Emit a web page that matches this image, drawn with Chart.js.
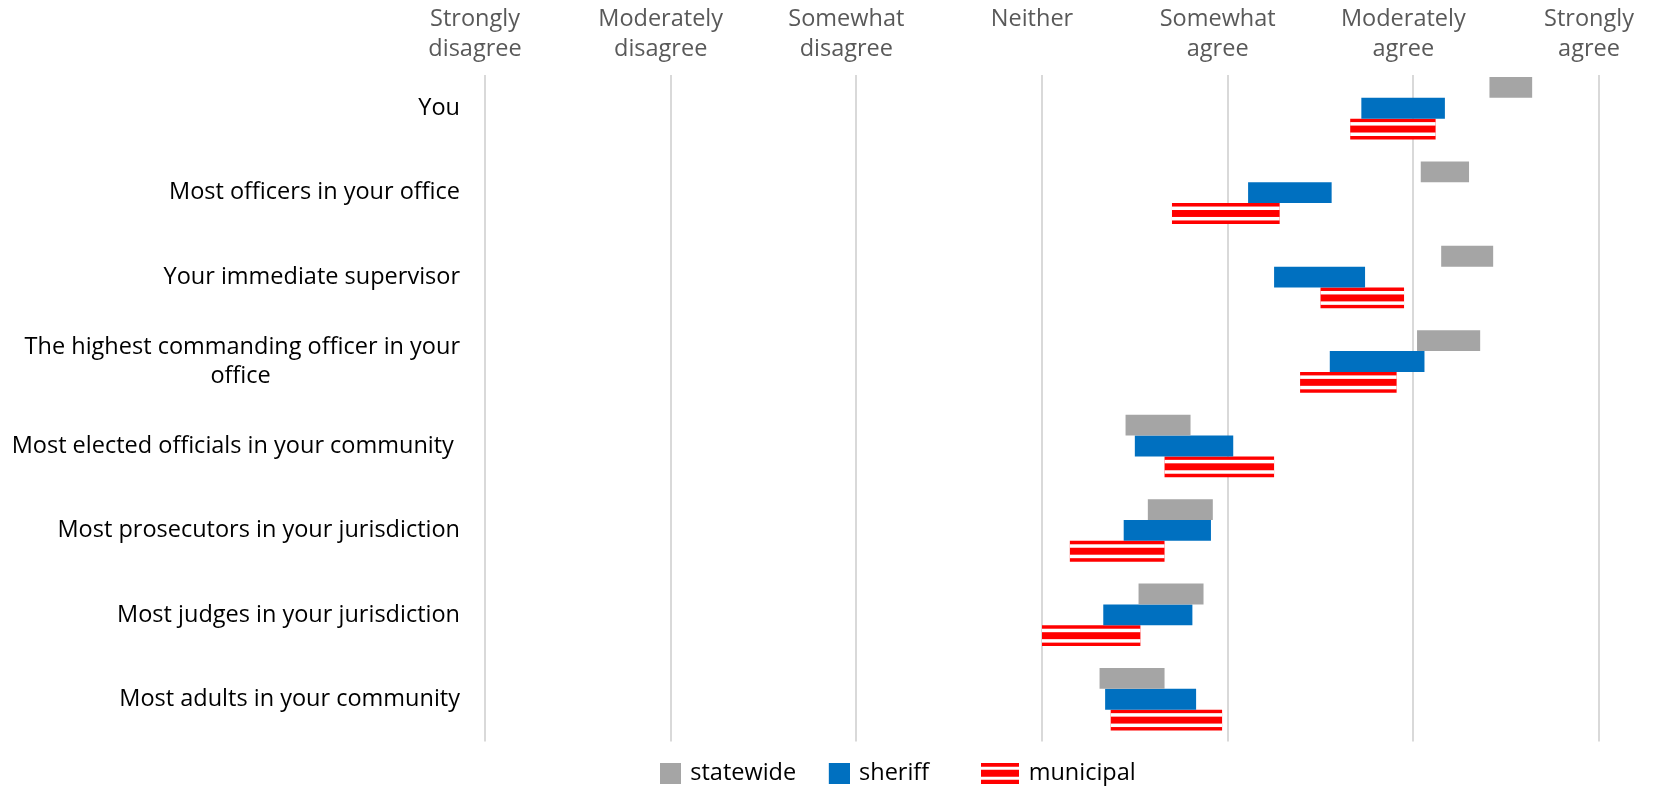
<!DOCTYPE html>
<html>
<head>
<meta charset="utf-8">
<script src="https://cdn.jsdelivr.net/npm/chart.js@4.4.0/dist/chart.umd.min.js"></script>
<style>
  html, body { margin: 0; padding: 0; background: #fff; }
  #wrap { width: 1661px; height: 787px; }
</style>
</head>
<body>
<div id="wrap"><canvas id="chart" width="1661" height="787"></canvas></div>
<script>
// categories (top to bottom)
const categories = [
  "You",
  "Most officers in your office",
  "Your immediate supervisor",
  ["The highest commanding officer in your", "office"],
  "Most elected officials in your community ",
  "Most prosecutors in your jurisdiction",
  "Most judges in your jurisdiction",
  "Most adults in your community"
];

// scale labels, 1..7
const scaleLabels = [
  ["Strongly", "disagree"],
  ["Moderately", "disagree"],
  ["Somewhat", "disagree"],
  ["Neither", ""],
  ["Somewhat", "agree"],
  ["Moderately", "agree"],
  ["Strongly", "agree"]
];

// [low, high] for each category
const statewide = [
  [6.41, 6.64], [6.04, 6.30], [6.15, 6.43], [6.02, 6.36],
  [4.45, 4.80], [4.57, 4.92], [4.52, 4.87], [4.31, 4.66]
];
const sheriff = [
  [5.72, 6.17], [5.11, 5.56], [5.25, 5.74], [5.55, 6.06],
  [4.50, 5.03], [4.44, 4.91], [4.33, 4.81], [4.34, 4.83]
];
const municipal = [
  [5.66, 6.12], [4.70, 5.28], [5.50, 5.95], [5.39, 5.91],
  [4.66, 5.25], [4.15, 4.66], [4.00, 4.53], [4.37, 4.97]
];

const FONT = '"Open Sans", sans-serif';
const SIZE = 23.5;
const GRAY = "#A5A5A5";
const BLUE = "#0070C0";
const RED = "#FF0000";

// centre the wrapped second line under the first one (labels are right aligned)
function centreWrapped(lines) {
  const ctx = document.createElement("canvas").getContext("2d");
  ctx.font = SIZE + "px " + FONT;
  const gap = ctx.measureText(lines[0]).width - ctx.measureText(lines[1]).width;
  const n = Math.round(gap / 2 / ctx.measureText(" ").width);
  return [lines[0], lines[1] + " ".repeat(n)];
}
const yLabels = categories.map(c => Array.isArray(c) ? centreWrapped(c) : c);

function legendIcon(color, striped) {
  const c = document.createElement("canvas");
  c.width = 38; c.height = 21;
  const g = c.getContext("2d");
  g.fillStyle = color;
  if (striped) {
    g.fillRect(0, 0, 38, 21);
    g.fillStyle = "#fff";
    g.fillRect(0, 4, 38, 3);
    g.fillRect(0, 14, 38, 3);
  } else {
    g.fillRect(17, 0, 21, 21);
  }
  return c;
}
const icons = [legendIcon(GRAY), legendIcon(BLUE), legendIcon(RED, true)];
const legendText = ["statewide ", "sheriff       ", "municipal"];

// gridlines start a little below the top of the plot in the original
const gridTop = {
  id: "gridTop",
  beforeDatasetsDraw(chart) {
    const a = chart.chartArea;
    chart.ctx.save();
    chart.ctx.fillStyle = "#fff";
    chart.ctx.fillRect(a.left - 3, a.top - 1, a.right - a.left + 6, 10);
    chart.ctx.restore();
  }
};

// white stripes over the municipal bars
const stripes = {
  id: "stripes",
  afterDatasetDraw(chart, args) {
    if (args.index !== 2) return;
    const ctx = chart.ctx;
    ctx.save();
    ctx.fillStyle = "#fff";
    args.meta.data.forEach(el => {
      const p = el.getProps(["x", "base", "y", "height"], true);
      const left = Math.min(p.x, p.base);
      const w = Math.abs(p.x - p.base);
      const top = p.y - p.height / 2;
      const u = p.height / 6;
      ctx.fillRect(left, top + u, w, u);
      ctx.fillRect(left, top + 4 * u, w, u);
    });
    ctx.restore();
  }
};

// place the legend like the original
const legendPlace = {
  id: "legendPlace",
  afterLayout(chart) {
    const lg = chart.legend;
    const pad = lg.options.labels.padding;
    lg.left = 644.5 - pad;
    lg.right = lg.left + pad + lg.lineWidths[0] + 2;
    lg.top += 8;
  }
};

new Chart(document.getElementById("chart"), {
  type: "bar",
  data: {
    labels: yLabels,
    datasets: [
      { label: "statewide", data: statewide, backgroundColor: GRAY },
      { label: "sheriff", data: sheriff, backgroundColor: BLUE },
      { label: "municipal", data: municipal, backgroundColor: RED }
    ]
  },
  options: {
    indexAxis: "y",
    responsive: false,
    animation: false,
    categoryPercentage: 0.74,
    barPercentage: 1.0,
    layout: { padding: { top: 0, right: 62, bottom: 0, left: 0 } },
    scales: {
      x: {
        position: "top",
        min: 1,
        max: 7,
        afterFit: s => { s.height = 66; },
        grid: { color: "#D9D9D9", lineWidth: 2, drawTicks: false },
        border: { display: false },
        ticks: {
          stepSize: 1,
          autoSkip: false,
          maxRotation: 0,
          padding: 1,
          labelOffset: -10,
          color: "#595959",
          font: { family: FONT, size: SIZE, lineHeight: 1.31 },
          callback: v => scaleLabels[v - 1]
        }
      },
      y: {
        afterFit: s => { s.width = 485; },
        grid: { display: false, drawTicks: false },
        border: { display: false },
        ticks: {
          padding: 25,
          color: "#000000",
          font: { family: FONT, size: SIZE, lineHeight: 1.22 }
        }
      }
    },
    plugins: {
      tooltip: { enabled: false },
      legend: {
        position: "bottom",
        labels: {
          usePointStyle: true,
          pointStyleWidth: 33,
          padding: 12,
          color: "#000000",
          font: { family: FONT, size: SIZE },
          generateLabels: chart => chart.data.datasets.map((ds, i) => ({
            text: legendText[i],
            pointStyle: icons[i],
            fillStyle: ds.backgroundColor,
            strokeStyle: ds.backgroundColor,
            lineWidth: 0,
            hidden: false,
            datasetIndex: i,
            fontColor: "#000000"
          }))
        }
      }
    }
  },
  plugins: [gridTop, stripes, legendPlace]
});
</script>
</body>
</html>
